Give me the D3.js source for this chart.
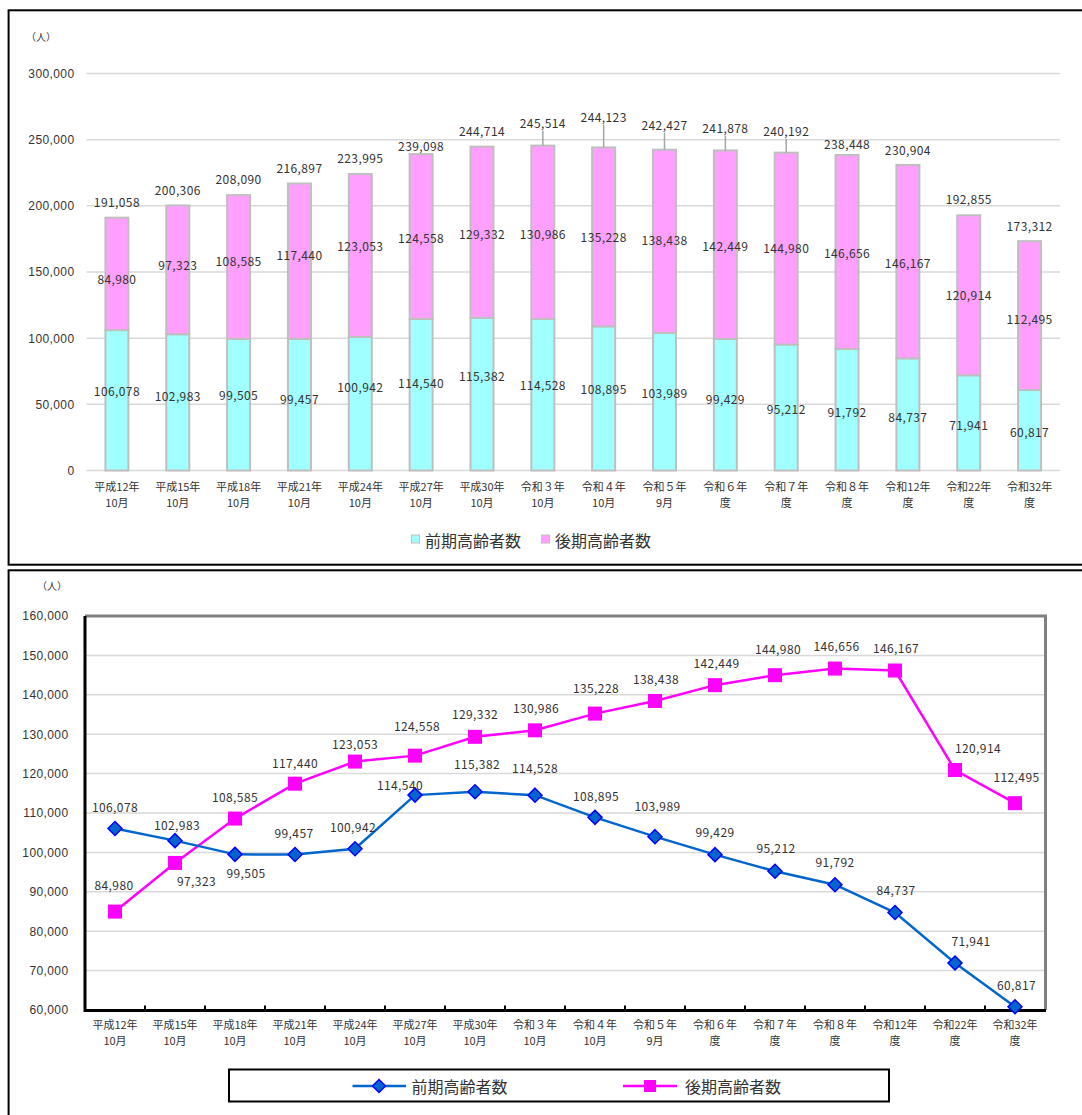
<!DOCTYPE html>
<html lang="ja">
<head>
<meta charset="utf-8">
<script src="https://cdn.jsdelivr.net/npm/d3@7"></script>
<style>
  html, body { margin: 0; padding: 0; background: #fff; }
  svg { display: block; font-family: "Noto Sans CJK JP", "Noto Sans", sans-serif; }
  text { fill: #333; }
</style>
</head>
<body>
<svg id="chart" width="1082" height="1115"></svg>
<script>
// ---- data -------------------------------------------------------------
const periodLine1 = ["平成12年","平成15年","平成18年","平成21年","平成24年","平成27年","平成30年",
  "令和３年","令和４年","令和５年","令和６年","令和７年","令和８年","令和12年","令和22年","令和32年"];
const periodLine2 = ["10月","10月","10月","10月","10月","10月","10月",
  "10月","10月","9月","度","度","度","度","度","度"];
const earlyElderly = [106078,102983,99505,99457,100942,114540,115382,114528,
  108895,103989,99429,95212,91792,84737,71941,60817];
const lateElderly = [84980,97323,108585,117440,123053,124558,129332,130986,
  135228,138438,142449,144980,146656,146167,120914,112495];
const seriesNames = ["前期高齢者数","後期高齢者数"];
const barTicks = [0,50000,100000,150000,200000,250000,300000];
const lineTicks = [60000,70000,80000,90000,100000,110000,120000,130000,140000,150000,160000];

// ---- label placement tweaks (pixels) ----------------------------------
const totalLift = [14.5,14.5,15,14.5,15,7.5,14.5,22,30,24,22,21,10,14,15,14.5];
const leaderBars = new Set([7,8,9,10,11]);
const earlyBarNudge = [-9,-6,-9,-5,-16,-11,-17,-9,-9,-8,-5,2,3,3,3,3];
const lateBarNudge = [6,-4,-5,-5,-9,2,3,3,1,0,2,0,2,2,1,4];
const earlyPtNudge = [[0,-21],[2,-15],[11,19],[-1,-21],[-2,-21],[-15,-9],[2,-26.5],[0,-26],
  [1,-21],[2.5,-30],[0,-22],[1,-22.5],[0,-22],[1,-22],[16,-21.5],[1.5,-21]];
const latePtNudge = [[-1,-26],[21.5,19],[0,-21],[0,-20],[0,-17],[2,-29],[0,-22.5],[1,-22],
  [1,-25],[1,-21],[1.5,-21],[3,-25],[1.5,-22],[1,-22],[23,-21],[1.5,-25]];

const fmt = d3.format(",");
const svg = d3.select("#chart");
const idx = d3.range(periodLine1.length);

// ---- panel frames -----------------------------------------------------
svg.append("rect").attr("x", 8.6).attr("y", 10.3).attr("width", 1090).attr("height", 554.4)
  .attr("fill", "none").attr("stroke", "#000").attr("stroke-width", 2);
svg.append("rect").attr("x", 8.6).attr("y", 570.3).attr("width", 1090).attr("height", 600)
  .attr("fill", "none").attr("stroke", "#000").attr("stroke-width", 2);

// ======================================================================
// Stacked bar chart
// ======================================================================
const gTop = svg.append("g");
const xb = d3.scalePoint().domain(idx).range([86.5, 1060]).padding(0.5);
const yb = d3.scaleLinear().domain([0, 300000]).range([470.5, 73.5]);
const barW = 23;

gTop.append("text").attr("x", 26).attr("y", 37).attr("dy", "0.35em")
  .style("font-size", "10px").text("（人）");

// gridlines
gTop.append("g").selectAll("line").data(barTicks).join("line")
  .attr("x1", 86.5).attr("x2", 1060)
  .attr("y1", d => yb(d)).attr("y2", d => yb(d))
  .attr("stroke", "#d9d9d9").attr("stroke-width", 1.5);

// y axis labels
const yAxisB = d3.axisLeft(yb).tickValues(barTicks).tickFormat(fmt).tickSize(0).tickPadding(0);
const gyb = gTop.append("g").attr("transform", "translate(74.5,0)").call(yAxisB);
gyb.select(".domain").remove();
gyb.selectAll("text").attr("fill", "#333").style("font-size", "12px")
  .attr("font-family", null).attr("letter-spacing", "0.4px");

const stackData = idx.map(i => ({ i, early: earlyElderly[i], late: lateElderly[i] }));
const stacked = d3.stack().keys(["early", "late"])(stackData);
const fills = ["#a0ffff", "#ffa0ff"];

stacked.forEach((layer, k) => {
  gTop.append("g").selectAll("rect").data(layer).join("rect")
    .attr("x", d => xb(d.data.i) - barW / 2)
    .attr("width", barW)
    .attr("y", d => yb(d[1]))
    .attr("height", d => yb(d[0]) - yb(d[1]))
    .attr("fill", fills[k])
    .attr("stroke", "#bfbfbf").attr("stroke-width", 2);
});

// segment labels
const segNudge = [earlyBarNudge, lateBarNudge];
stacked.forEach((layer, k) => {
  gTop.append("g").selectAll("text").data(layer).join("text")
    .attr("x", d => xb(d.data.i))
    .attr("y", d => (yb(d[0]) + yb(d[1])) / 2 + segNudge[k][d.data.i])
    .attr("dy", "0.35em").attr("text-anchor", "middle")
    .style("font-size", "12px").attr("letter-spacing", "0.4px")
    .text(d => fmt(d[1] - d[0]));
});

// totals with leader lines where lifted
const totals = stacked[1];
gTop.append("g").selectAll("line").data(totals.filter(d => leaderBars.has(d.data.i))).join("line")
  .attr("x1", d => xb(d.data.i)).attr("x2", d => xb(d.data.i))
  .attr("y1", d => yb(d[1]) - totalLift[d.data.i] + 7)
  .attr("y2", d => yb(d[1]))
  .attr("stroke", "#a6a6a6").attr("stroke-width", 1.5);
gTop.append("g").selectAll("text").data(totals).join("text")
  .attr("x", d => xb(d.data.i))
  .attr("y", d => yb(d[1]) - totalLift[d.data.i])
  .attr("dy", "0.35em").attr("text-anchor", "middle")
  .style("font-size", "12px").attr("letter-spacing", "0.4px")
  .text(d => fmt(d[1]));

// category labels (two lines)
const catB = gTop.append("g").selectAll("g").data(idx).join("g")
  .attr("transform", i => `translate(${xb(i)},0)`);
catB.append("text").attr("y", 487).attr("dy", "0.35em").attr("text-anchor", "middle")
  .style("font-size", "11px").text(i => periodLine1[i]);
catB.append("text").attr("y", 503).attr("dy", "0.35em").attr("text-anchor", "middle")
  .style("font-size", "11px").text(i => periodLine2[i]);

// legend
const legB = [{ x: 411.5, fill: fills[0] }, { x: 541.5, fill: fills[1] }];
legB.forEach((l, k) => {
  gTop.append("rect").attr("x", l.x).attr("y", 535).attr("width", 8).attr("height", 8)
    .attr("fill", l.fill).attr("stroke", "#bfbfbf").attr("stroke-width", 1);
  gTop.append("text").attr("x", l.x + 13.5).attr("y", 541).attr("dy", "0.35em")
    .style("font-size", "16px").text(seriesNames[k]);
});

// ======================================================================
// Line chart
// ======================================================================
const gBot = svg.append("g");
const xl = d3.scalePoint().domain(idx).range([85, 1045]).padding(0.5);
const yl = d3.scaleLinear().domain([60000, 160000]).range([1010, 616]);

gBot.append("text").attr("x", 37).attr("y", 586).attr("dy", "0.35em")
  .style("font-size", "10px").text("（人）");

gBot.append("g").selectAll("line").data(lineTicks.slice(1, -1)).join("line")
  .attr("x1", 85).attr("x2", 1045)
  .attr("y1", d => yl(d)).attr("y2", d => yl(d))
  .attr("stroke", "#d9d9d9").attr("stroke-width", 1.5);

// plot frame: gray top/right, black axes
gBot.append("path").attr("d", `M85,616H1045.5V1010`).attr("fill", "none")
  .attr("stroke", "#808080").attr("stroke-width", 3);
gBot.append("path").attr("d", `M85,616V1010.5H1046`).attr("fill", "none")
  .attr("stroke", "#000").attr("stroke-width", 3);

// category boundary ticks
gBot.append("g").selectAll("line").data(d3.range(1, 16)).join("line")
  .attr("x1", k => 85 + k * xl.step()).attr("x2", k => 85 + k * xl.step())
  .attr("y1", 1005.5).attr("y2", 1010).attr("stroke", "#000").attr("stroke-width", 2);

const yAxisL = d3.axisLeft(yl).tickValues(lineTicks).tickFormat(fmt).tickSize(0).tickPadding(0);
const gyl = gBot.append("g").attr("transform", "translate(68.5,0)").call(yAxisL);
gyl.select(".domain").remove();
gyl.selectAll("text").attr("fill", "#333").style("font-size", "12px")
  .attr("font-family", null).attr("letter-spacing", "0.4px");

const catL = gBot.append("g").selectAll("g").data(idx).join("g")
  .attr("transform", i => `translate(${xl(i)},0)`);
catL.append("text").attr("y", 1025.3).attr("dy", "0.35em").attr("text-anchor", "middle")
  .style("font-size", "11px").text(i => periodLine1[i]);
catL.append("text").attr("y", 1041.4).attr("dy", "0.35em").attr("text-anchor", "middle")
  .style("font-size", "11px").text(i => periodLine2[i]);

const lineGen = d3.line().x((d, i) => xl(i)).y(d => yl(d));
const blue = "#0066cc", magenta = "#ff00ff";

gBot.append("path").datum(lateElderly).attr("d", lineGen)
  .attr("fill", "none").attr("stroke", magenta).attr("stroke-width", 2.5);
gBot.append("path").datum(earlyElderly).attr("d", lineGen)
  .attr("fill", "none").attr("stroke", blue).attr("stroke-width", 2.5);

const diamond = (cx, cy, r) => `M${cx},${cy - r}L${cx + r},${cy}L${cx},${cy + r}L${cx - r},${cy}Z`;

gBot.append("g").selectAll("rect").data(lateElderly).join("rect")
  .attr("x", (d, i) => xl(i) - 7).attr("y", d => yl(d) - 7)
  .attr("width", 14).attr("height", 14).attr("fill", magenta);
gBot.append("g").selectAll("path").data(earlyElderly).join("path")
  .attr("d", (d, i) => diamond(xl(i), yl(d), 7))
  .attr("fill", blue).attr("stroke", "#0000ff").attr("stroke-width", 1.5);

gBot.append("g").selectAll("text").data(lateElderly).join("text")
  .attr("x", (d, i) => xl(i) + latePtNudge[i][0])
  .attr("y", (d, i) => yl(d) + latePtNudge[i][1])
  .attr("dy", "0.35em").attr("text-anchor", "middle")
  .style("font-size", "12px").attr("letter-spacing", "0.4px").text(d => fmt(d));
gBot.append("g").selectAll("text").data(earlyElderly).join("text")
  .attr("x", (d, i) => xl(i) + earlyPtNudge[i][0])
  .attr("y", (d, i) => yl(d) + earlyPtNudge[i][1])
  .attr("dy", "0.35em").attr("text-anchor", "middle")
  .style("font-size", "12px").attr("letter-spacing", "0.4px").text(d => fmt(d));

// legend box
gBot.append("rect").attr("x", 229).attr("y", 1069.5).attr("width", 660).attr("height", 32)
  .attr("fill", "#fff").attr("stroke", "#000").attr("stroke-width", 2);
const legY = 1086;
gBot.append("line").attr("x1", 352.5).attr("x2", 406).attr("y1", legY).attr("y2", legY)
  .attr("stroke", blue).attr("stroke-width", 2.5);
gBot.append("path").attr("d", diamond(379, legY, 6.5))
  .attr("fill", blue).attr("stroke", "#0000ff").attr("stroke-width", 1.5);
gBot.append("text").attr("x", 411.5).attr("y", legY + 1.5).attr("dy", "0.35em")
  .style("font-size", "16px").text(seriesNames[0]);
gBot.append("line").attr("x1", 623).attr("x2", 677).attr("y1", legY).attr("y2", legY)
  .attr("stroke", magenta).attr("stroke-width", 2.5);
gBot.append("rect").attr("x", 644).attr("y", legY - 6).attr("width", 12).attr("height", 12)
  .attr("fill", magenta);
gBot.append("text").attr("x", 685).attr("y", legY + 1.5).attr("dy", "0.35em")
  .style("font-size", "16px").text(seriesNames[1]);
</script>
</body>
</html>
